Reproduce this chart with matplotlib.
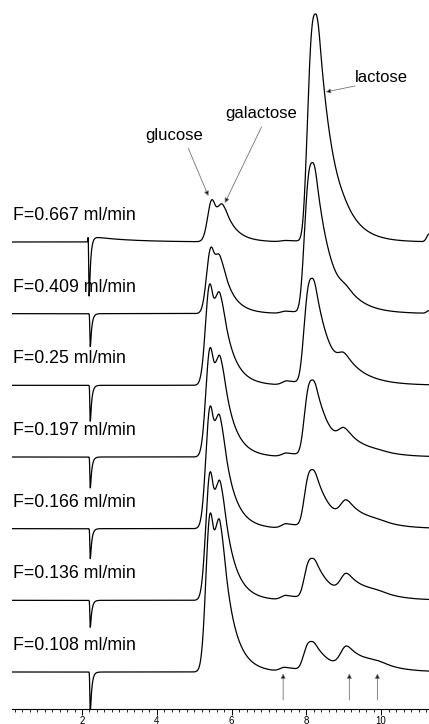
"""Chromatograms of glucose / galactose / lactose at seven flow rates, stacked."""
import numpy as np
import matplotlib
matplotlib.use("Agg")
import matplotlib.pyplot as plt
from matplotlib.ticker import MultipleLocator

plt.rcParams["font.family"] = ["Liberation Sans", "DejaVu Sans"]

# --- data (heights in signal units above each baseline) ---
flows = ["0.667", "0.409", "0.25", "0.197", "0.166", "0.136", "0.108"]

glu_x = [5.47, 5.44, 5.41, 5.42, 5.42, 5.42, 5.42]
glu_h = [42, 66, 101, 109, 122, 128, 158]
gal_x = [5.77, 5.70, 5.70, 5.71, 5.70, 5.71, 5.70]
gal_h = [37, 57, 91, 99, 111, 117, 149]
bump_x = [7.45, 7.45, 7.48, 7.47, 7.46, 7.45, 7.42]
bump_h = [1.5, 2.5, 4.5, 4.0, 5.0, 5.0, 4.7]
lac_x = [8.25, 8.17, 8.16, 8.17, 8.17, 8.17, 8.15]
lac_h = [228, 151, 107, 77, 59, 42, 30.5]
p9_x = [9.05, 9.08, 9.03, 9.03, 9.08, 9.08, 9.08]
p9_h = [42, 28, 32, 29, 28.7, 27, 26]
p10_x = [9.9, 9.9, 9.9, 9.9, 9.9, 9.9, 9.9]
p10_h = [5, 4, 6.5, 8, 10, 10.5, 11.5]
end_h = [8, 3, 0, 0, 0, 0, 0]          # rise at the right edge
dip_x = [2.19, 2.22, 2.22, 2.22, 2.22, 2.22, 2.22]
dip_h = [60, 33, 36, 31, 30, 27, 40]   # injection dip depth
spike_h = [6, 0, 0, 0, 0, 0, 0]        # small spike just before the dip

marker_x = [7.38, 9.15, 9.9]           # arrows under the last trace

# peak shapes: left width, right width, tail constant, left exponent
SHAPE = {
    "glu": (0.11, 0.12, 0.20, 2),
    "gal": (0.12, 0.20, 0.33, 2),
    "bump": (0.12, 0.12, 1.0, 2),
    "lac": (0.204, 0.22, 0.42, 3),
    "p9": (0.16, 0.25, 0.60, 2),
    "p10": (0.32, 0.32, 0.40, 2),
    "end": (0.06, 0.06, 1.0, 2),
    "dip": (0.010, 0.025, 0.04, 2),
    "spike": (0.008, 0.008, 1.0, 2),
}


def peak(x, x0, sl, sr, tau, p):
    """unit-height peak: left power-Gaussian, right Gaussian with exponential tail"""
    t = np.asarray(x, float) - x0
    y = np.empty_like(t)
    lft = t < 0
    y[lft] = np.exp(-0.5 * (np.abs(t[lft]) / sl) ** p)
    tc = sr ** 2 / tau
    tr = t[~lft]
    y[~lft] = np.where(tr < tc, np.exp(-0.5 * (tr / sr) ** 2),
                       np.exp(0.5 * tc / tau - tr / tau))
    return y


def nnls_amplitudes(B, h):
    act = list(range(len(h)))
    a = np.zeros(len(h))
    while act:
        sol = np.linalg.solve(B[np.ix_(act, act)], h[act])
        if (sol >= 0).all():
            a[act] = sol
            break
        act.pop(int(np.argmin(sol)))
    return a


def trace(x, i):
    names = ["glu", "gal", "bump", "lac", "p9", "p10", "end"]
    pos = np.array([glu_x[i], gal_x[i], bump_x[i], lac_x[i], p9_x[i], p10_x[i], 11.28])
    obs = np.array([glu_h[i], gal_h[i], bump_h[i], lac_h[i], p9_h[i], p10_h[i], end_h[i]], float)
    B = np.array([[peak([pos[r]], pos[c], *SHAPE[names[c]])[0] for c in range(len(names))]
                  for r in range(len(names))])
    amp = nnls_amplitudes(B, obs)
    y = np.zeros_like(x)
    for n, x0, a in zip(names, pos, amp):
        y += a * peak(x, x0, *SHAPE[n])
    y -= dip_h[i] * peak(x, dip_x[i], *SHAPE["dip"])
    y += spike_h[i] * peak(x, dip_x[i] - 0.025, *SHAPE["spike"])
    return y


fig = plt.figure(figsize=(4.29, 7.24), dpi=100)
ax = fig.add_axes([12 / 429, 15 / 724, 417 / 429, 709 / 724])
x = np.linspace(0.128, 11.28, 4000)
step = 71.67
for i, f in enumerate(flows):
    off = (len(flows) - 1 - i) * step
    ax.plot(x, trace(x, i) + off, color="black", lw=0.9, clip_on=True)
    ax.text(0.155, off + 22, f"F={f} ml/min", fontsize=12.8, va="baseline", ha="left")

ap = dict(arrowstyle="-|>", ec="0.45", fc="black", lw=0.6, mutation_scale=7,
          shrinkA=0, shrinkB=0)
top = (len(flows) - 1) * step
ax.text(3.68, top + 106, "glucose", fontsize=12, va="center", ha="left")
ax.annotate("", xy=(glu_x[0] - 0.09, top + glu_h[0] + 4), xytext=(4.84, top + 94), arrowprops=ap)
ax.text(5.82, top + 128, "galactose", fontsize=12, va="center", ha="left")
ax.annotate("", xy=(gal_x[0] + 0.05, top + gal_h[0] + 2), xytext=(6.80, top + 115), arrowprops=ap)
ax.text(9.30, top + 164, "lactose", fontsize=12, va="center", ha="left")
ax.annotate("", xy=(8.52, top + 150), xytext=(9.30, top + 156), arrowprops=ap)
for mx in marker_x:
    ax.annotate("", xy=(mx, -1.5), xytext=(mx, -28), arrowprops=ap)

ax.set_xlim(0.128, 11.28)
ax.set_ylim(-37, 672)
for s in ("left", "right", "top"):
    ax.spines[s].set_visible(False)
ax.spines["bottom"].set_linewidth(0.8)
ax.set_yticks([])
ax.xaxis.set_major_locator(MultipleLocator(2))
ax.xaxis.set_minor_locator(MultipleLocator(0.2))
ax.tick_params(axis="x", which="major", direction="out", length=4.2, width=0.7,
               labelsize=7, pad=0.5)
ax.tick_params(axis="x", which="minor", direction="out", length=2.5, width=0.6)
fig.savefig("out.png", dpi=100)
